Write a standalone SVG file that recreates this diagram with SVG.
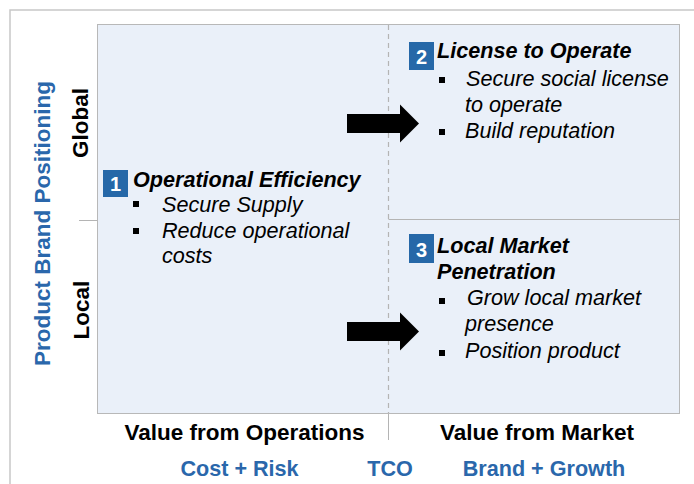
<svg xmlns="http://www.w3.org/2000/svg" width="694" height="484" viewBox="0 0 694 484">
<style>
.title{font-family:"Liberation Sans",Arial,sans-serif;font-size:21.6px;font-weight:bold;font-style:italic;fill:#000;}
.item{font-family:"Liberation Sans",Arial,sans-serif;font-size:21.6px;font-style:italic;fill:#000;}
.axis{font-family:"Liberation Sans",Arial,sans-serif;font-size:22.5px;font-weight:bold;fill:#000;}
.blue{font-family:"Liberation Sans",Arial,sans-serif;font-size:21.6px;font-weight:bold;fill:#2a67ab;}
.num{font-family:"Liberation Sans",Arial,sans-serif;font-size:20px;font-weight:bold;fill:#fff;text-anchor:middle;}
.badge{fill:#2668a8;}
.bul{fill:#000;}
.grid{stroke:#b4b4b4;stroke-width:1;fill:none;}
</style>
<defs>
<path id="arrow" d="M0,-9.5 H53 V-19 L72,0 L53,19 V9.5 H0 Z"/>
</defs>
<path d="M10,484 V10 H694" fill="none" stroke="#c8c8c8" stroke-width="1.5"/>
<g id="panel">
<rect x="97.5" y="24.5" width="582" height="389" fill="#eaf0f9" stroke="#b8b8b8" stroke-width="1"/>
<line x1="388.5" y1="25" x2="388.5" y2="413" stroke="#b4b4b4" stroke-width="1.2" stroke-dasharray="5,4"/>
<line x1="388.5" y1="414" x2="388.5" y2="440" class="grid"/>
<line x1="388.5" y1="219.5" x2="679.5" y2="219.5" class="grid"/>
<line x1="79" y1="220.5" x2="97.5" y2="220.5" class="grid"/>
</g>
<g id="yaxis">
<text class="axis" transform="translate(50,223.5) rotate(-90)" text-anchor="middle" style="fill:#2a67ab">Product Brand Positioning</text>
<text class="axis" transform="translate(87.5,123) rotate(-90)" text-anchor="middle">Global</text>
<text class="axis" transform="translate(88.5,310) rotate(-90)" text-anchor="middle">Local</text>
</g>
<g id="xaxis">
<text class="axis" x="244.5" y="440" text-anchor="middle">Value from Operations</text>
<text class="axis" x="537" y="440" text-anchor="middle">Value from Market</text>
<text class="blue" x="239.5" y="476" text-anchor="middle">Cost + Risk</text>
<text class="blue" x="390" y="476" text-anchor="middle">TCO</text>
<text class="blue" x="544" y="476" text-anchor="middle">Brand + Growth</text>
</g>
<g id="node1">
<rect class="badge" x="103" y="170" width="25" height="27"/>
<text class="num" x="115.5" y="191">1</text>
<text class="title" x="133" y="187">Operational Efficiency</text>
<rect class="bul" x="133" y="201" width="6" height="6"/>
<text class="item" x="162" y="212">Secure Supply</text>
<rect class="bul" x="133" y="228" width="6" height="6"/>
<text class="item" x="162" y="238">Reduce operational</text>
<text class="item" x="162" y="263">costs</text>
</g>
<g id="node2">
<rect class="badge" x="409" y="42" width="25" height="28"/>
<text class="num" x="421.5" y="64">2</text>
<text class="title" x="437" y="58">License to Operate</text>
<rect class="bul" x="439" y="77" width="6" height="6"/>
<text class="item" x="466" y="86">Secure social license</text>
<text class="item" x="465" y="112">to operate</text>
<rect class="bul" x="439" y="129" width="6" height="6"/>
<text class="item" x="465" y="138">Build reputation</text>
</g>
<g id="node3">
<rect class="badge" x="409" y="234" width="25" height="29"/>
<text class="num" x="421.5" y="257">3</text>
<text class="title" x="437" y="253">Local Market</text>
<text class="title" x="437" y="279">Penetration</text>
<rect class="bul" x="439" y="298" width="6" height="6"/>
<text class="item" x="467" y="305">Grow local market</text>
<text class="item" x="465" y="331">presence</text>
<rect class="bul" x="439" y="350" width="6" height="6"/>
<text class="item" x="465" y="358">Position product</text>
</g>
<g id="connectors">
<use href="#arrow" x="347" y="123.5" fill="#000"/>
<use href="#arrow" x="347" y="331.5" fill="#000"/>
</g>
</svg>
